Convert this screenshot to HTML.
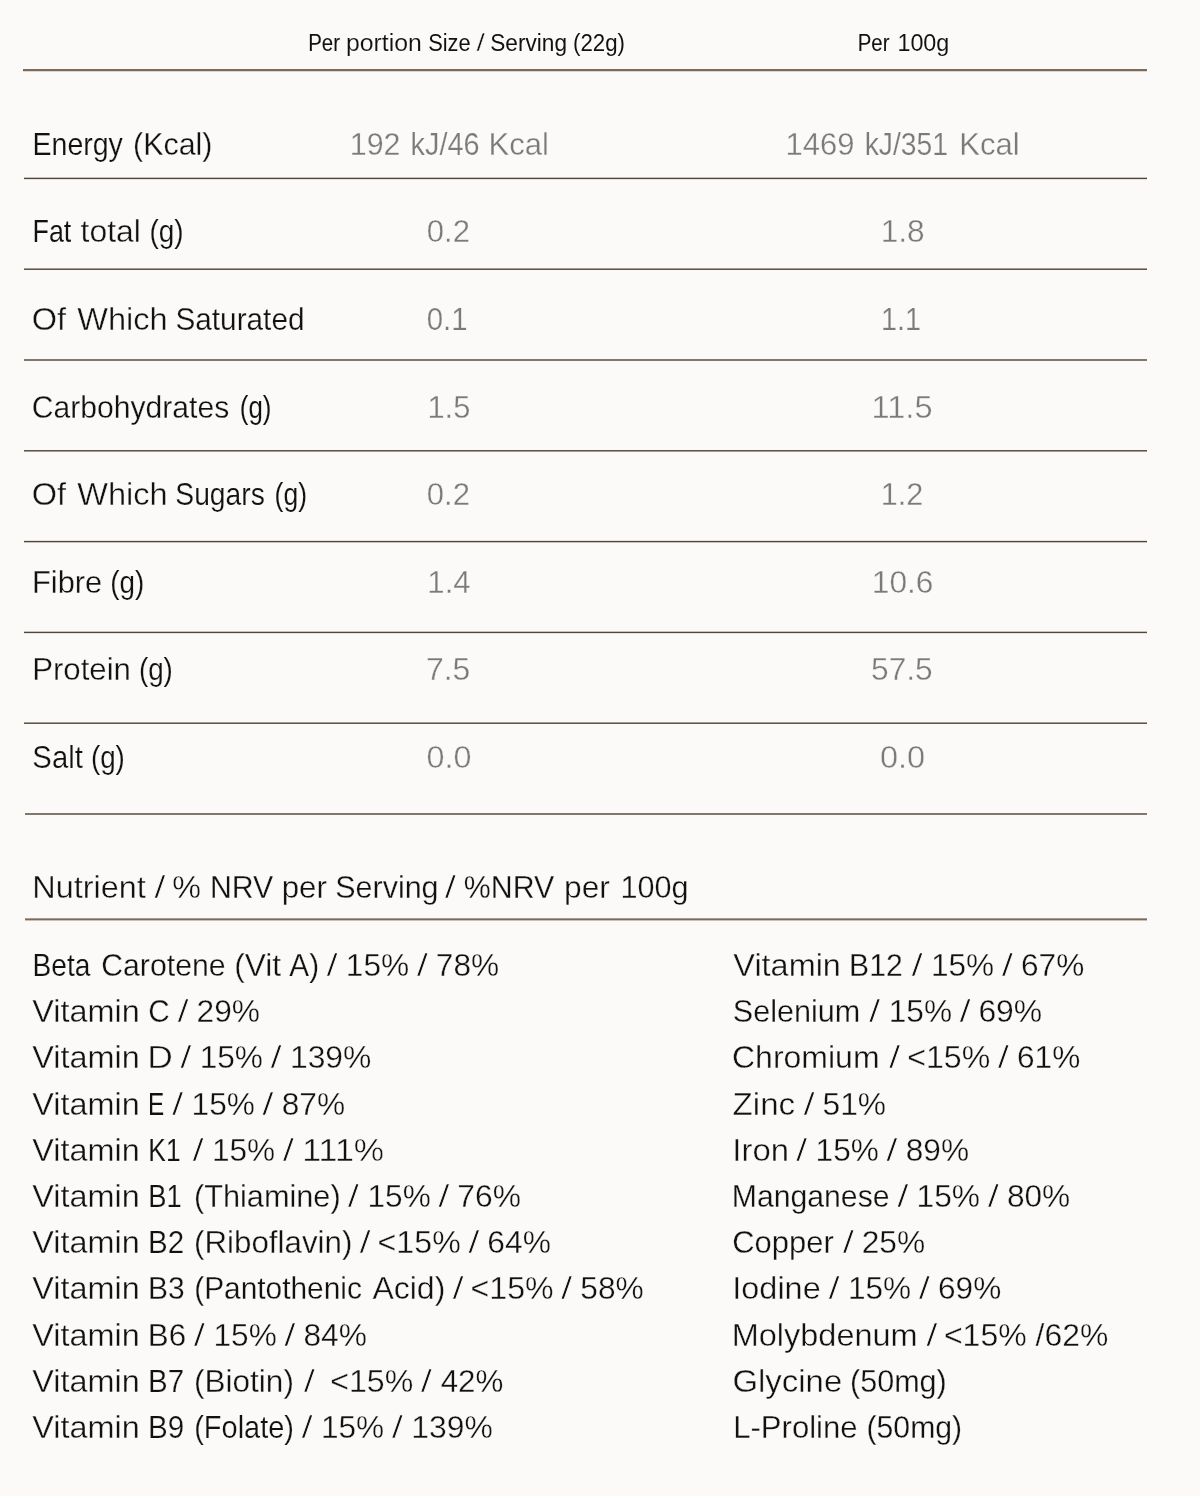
<!DOCTYPE html>
<html lang="en">
<head>
<meta charset="utf-8">
<title>Nutritional information</title>
<style>
html,body{margin:0;padding:0;background:#fbfaf8;}
body{width:1200px;height:1496px;position:relative;overflow:hidden;font-family:"Liberation Sans",Arial,Helvetica,sans-serif;font-weight:400;}
.r{position:absolute;}
.t{position:absolute;left:0;width:1200px;height:40px;line-height:40px;margin:0;padding:0;white-space:pre;font-size:31.1px;color:#111111;-webkit-text-stroke:0 #fbfaf8;paint-order:fill stroke;}
.h{font-size:23.1px;}
.v{color:#7a7a7a;}
.t span{position:absolute;top:0;left:0;display:block;height:40px;transform-origin:0 0;}
</style>
</head>
<body>
<div class="r" style="left:23px;width:1124px;top:69px;height:3px;background:linear-gradient(to bottom,#7b6a5a 0px,#7b6a5a 1px,#7b6a5a 1px,#7b6a5a 2px,#dbd6d0 2px,#dbd6d0 3px)"></div>
<div class="r" style="left:24px;width:1123px;top:177px;height:3px;background:linear-gradient(to bottom,#c4c0ba 0px,#c4c0ba 1px,#534638 1px,#534638 2px,#e6e4e0 2px,#e6e4e0 3px)"></div>
<div class="r" style="left:24px;width:1123px;top:268px;height:2px;background:linear-gradient(to bottom,#a39c93 0px,#a39c93 1px,#605446 1px,#605446 2px)"></div>
<div class="r" style="left:24px;width:1123px;top:359px;height:2px;background:linear-gradient(to bottom,#81786d 0px,#81786d 1px,#81786d 1px,#81786d 2px)"></div>
<div class="r" style="left:24px;width:1123px;top:450px;height:2px;background:linear-gradient(to bottom,#605446 0px,#605446 1px,#a39c93 1px,#a39c93 2px)"></div>
<div class="r" style="left:24px;width:1123px;top:540px;height:3px;background:linear-gradient(to bottom,#e6e4e0 0px,#e6e4e0 1px,#534638 1px,#534638 2px,#c4c0ba 2px,#c4c0ba 3px)"></div>
<div class="r" style="left:24px;width:1123px;top:631px;height:3px;background:linear-gradient(to bottom,#c4c0ba 0px,#c4c0ba 1px,#534638 1px,#534638 2px,#e6e4e0 2px,#e6e4e0 3px)"></div>
<div class="r" style="left:24px;width:1123px;top:722px;height:2px;background:linear-gradient(to bottom,#a39c93 0px,#a39c93 1px,#605446 1px,#605446 2px)"></div>
<div class="r" style="left:25px;width:1122px;top:813px;height:2px;background:linear-gradient(to bottom,#81786d 0px,#81786d 1px,#81786d 1px,#81786d 2px)"></div>
<div class="r" style="left:25px;width:1122px;top:918px;height:3px;background:linear-gradient(to bottom,#a89c91 0px,#a89c91 1px,#7b6a5a 1px,#7b6a5a 2px,#c8c0b9 2px,#c8c0b9 3px)"></div>
<div class="t h" style="top:23px"><span style="-webkit-text-stroke:0.08px currentColor;transform:translateX(308.20px) scaleX(0.8847)">Per</span> <span style="-webkit-text-stroke-width:0.12px;transform:translateX(346.03px) scaleX(1.0738)">portion</span> <span style="transform:translateX(428.18px) scaleX(0.9457)">Size</span> <span style="-webkit-text-stroke-width:0.36px;transform:translateX(476.48px) scaleX(1.2997)">/</span> <span style="transform:translateX(490.25px) scaleX(0.9808)">Serving</span> <span style="transform:translateX(573.07px) scaleX(0.9633)">(22g)</span></div>
<div class="t h" style="top:23px"><span style="-webkit-text-stroke:0.08px currentColor;transform:translateX(857.66px) scaleX(0.8840)">Per</span> <span style="-webkit-text-stroke-width:0.05px;transform:translateX(897.40px) scaleX(1.0103)">100g</span></div>
<div class="t" style="top:125px"><span style="-webkit-text-stroke-width:0.19px;transform:translateX(32.56px) scaleX(0.9167)">Energy</span> <span style="-webkit-text-stroke-width:0.28px;transform:translateX(133.05px) scaleX(0.9773)">(Kcal)</span></div>
<div class="t v" style="top:125px"><span style="-webkit-text-stroke-width:0.28px;transform:translateX(349.82px) scaleX(0.9762)">192</span> <span style="-webkit-text-stroke-width:0.21px;transform:translateX(410.58px) scaleX(0.9280)">kJ/46</span> <span style="-webkit-text-stroke-width:0.31px;transform:translateX(488.52px) scaleX(0.9995)">Kcal</span></div>
<div class="t v" style="top:125px"><span style="-webkit-text-stroke-width:0.31px;transform:translateX(785.55px) scaleX(0.9970)">1469</span> <span style="-webkit-text-stroke-width:0.18px;transform:translateX(864.64px) scaleX(0.9093)">kJ/351</span> <span style="-webkit-text-stroke-width:0.31px;transform:translateX(959.28px) scaleX(0.9966)">Kcal</span></div>
<div class="t" style="top:212px"><span style="-webkit-text-stroke-width:0.12px;transform:translateX(32.47px) scaleX(0.8644)">Fat</span> <span style="-webkit-text-stroke-width:0.35px;transform:translateX(80.53px) scaleX(1.0275)">total</span> <span style="-webkit-text-stroke-width:0.17px;transform:translateX(149.48px) scaleX(0.8994)">(g)</span></div>
<div class="t v" style="top:212px"><span style="-webkit-text-stroke-width:0.31px;transform:translateX(426.77px) scaleX(0.9979)">0.2</span></div>
<div class="t v" style="top:212px"><span style="-webkit-text-stroke-width:0.34px;transform:translateX(880.66px) scaleX(1.0164)">1.8</span></div>
<div class="t" style="top:300px"><span style="-webkit-text-stroke-width:0.38px;transform:translateX(31.83px) scaleX(1.0443)">Of</span> <span style="-webkit-text-stroke-width:0.38px;transform:translateX(77.33px) scaleX(1.0460)">Which</span> <span style="-webkit-text-stroke-width:0.25px;transform:translateX(175.44px) scaleX(0.9571)">Saturated</span></div>
<div class="t v" style="top:300px"><span style="-webkit-text-stroke-width:0.23px;transform:translateX(426.68px) scaleX(0.9445)">0.1</span></div>
<div class="t v" style="top:300px"><span style="-webkit-text-stroke-width:0.21px;transform:translateX(881.04px) scaleX(0.9245)">1.1</span></div>
<div class="t" style="top:388px"><span style="-webkit-text-stroke-width:0.27px;transform:translateX(31.82px) scaleX(0.9677)">Carbohydrates</span> <span style="-webkit-text-stroke-width:0.08px;transform:translateX(239.81px) scaleX(0.8339)">(g)</span></div>
<div class="t v" style="top:388px"><span style="-webkit-text-stroke-width:0.30px;transform:translateX(427.42px) scaleX(0.9930)">1.5</span></div>
<div class="t v" style="top:388px"><span style="-webkit-text-stroke-width:0.38px;transform:translateX(871.62px) scaleX(1.0456)">11.5</span></div>
<div class="t" style="top:475px"><span style="-webkit-text-stroke-width:0.38px;transform:translateX(31.83px) scaleX(1.0443)">Of</span> <span style="-webkit-text-stroke-width:0.38px;transform:translateX(77.33px) scaleX(1.0460)">Which</span> <span style="-webkit-text-stroke-width:0.18px;transform:translateX(175.34px) scaleX(0.9079)">Sugars</span> <span style="-webkit-text-stroke-width:0.10px;transform:translateX(274.62px) scaleX(0.8515)">(g)</span></div>
<div class="t v" style="top:475px"><span style="-webkit-text-stroke-width:0.31px;transform:translateX(426.77px) scaleX(0.9979)">0.2</span></div>
<div class="t v" style="top:475px"><span style="-webkit-text-stroke-width:0.29px;transform:translateX(880.71px) scaleX(0.9826)">1.2</span></div>
<div class="t" style="top:563px"><span style="-webkit-text-stroke-width:0.30px;transform:translateX(32.02px) scaleX(0.9911)">Fibre</span> <span style="-webkit-text-stroke-width:0.16px;transform:translateX(110.30px) scaleX(0.8948)">(g)</span></div>
<div class="t v" style="top:563px"><span style="-webkit-text-stroke-width:0.31px;transform:translateX(427.36px) scaleX(1.0000)">1.4</span></div>
<div class="t v" style="top:563px"><span style="-webkit-text-stroke-width:0.34px;transform:translateX(871.78px) scaleX(1.0201)">10.6</span></div>
<div class="t" style="top:650px"><span style="-webkit-text-stroke-width:0.32px;transform:translateX(32.19px) scaleX(1.0025)">Protein</span> <span style="-webkit-text-stroke-width:0.16px;transform:translateX(138.90px) scaleX(0.8942)">(g)</span></div>
<div class="t v" style="top:650px"><span style="-webkit-text-stroke-width:0.35px;transform:translateX(425.92px) scaleX(1.0281)">7.5</span></div>
<div class="t v" style="top:650px"><span style="-webkit-text-stroke-width:0.34px;transform:translateX(871.02px) scaleX(1.0183)">57.5</span></div>
<div class="t" style="top:738px"><span style="-webkit-text-stroke-width:0.23px;transform:translateX(32.36px) scaleX(0.9415)">Salt</span> <span style="-webkit-text-stroke-width:0.16px;transform:translateX(90.90px) scaleX(0.8942)">(g)</span></div>
<div class="t v" style="top:738px"><span style="-webkit-text-stroke-width:0.37px;transform:translateX(426.56px) scaleX(1.0389)">0.0</span></div>
<div class="t v" style="top:738px"><span style="-webkit-text-stroke-width:0.38px;transform:translateX(879.93px) scaleX(1.0477)">0.0</span></div>
<div class="t" style="top:868px"><span style="-webkit-text-stroke-width:0.37px;transform:translateX(32.36px) scaleX(1.0423)">Nutrient</span> <span style="-webkit-text-stroke-width:0.74px;transform:translateX(154.25px) scaleX(1.2997)">/</span> <span style="-webkit-text-stroke-width:0.37px;transform:translateX(172.22px) scaleX(1.0400)">%</span> <span style="-webkit-text-stroke-width:0.28px;transform:translateX(209.91px) scaleX(0.9740)">NRV</span> <span style="-webkit-text-stroke-width:0.32px;transform:translateX(281.63px) scaleX(1.0054)">per</span> <span style="-webkit-text-stroke-width:0.28px;transform:translateX(335.27px) scaleX(0.9796)">Serving</span> <span style="-webkit-text-stroke-width:0.74px;transform:translateX(444.72px) scaleX(1.2997)">/</span> <span style="-webkit-text-stroke-width:0.28px;transform:translateX(463.85px) scaleX(0.9756)">%NRV</span> <span style="-webkit-text-stroke-width:0.34px;transform:translateX(564.10px) scaleX(1.0190)">per</span> <span style="-webkit-text-stroke-width:0.29px;transform:translateX(620.45px) scaleX(0.9835)">100g</span></div>
<div class="t" style="top:946px"><span style="-webkit-text-stroke-width:0.18px;transform:translateX(32.58px) scaleX(0.9039)">Beta</span> <span style="-webkit-text-stroke-width:0.27px;transform:translateX(101.20px) scaleX(0.9730)">Carotene</span> <span style="-webkit-text-stroke-width:0.34px;transform:translateX(234.24px) scaleX(1.0179)">(Vit</span> <span style="-webkit-text-stroke-width:0.25px;transform:translateX(289.37px) scaleX(0.9565)">A)</span> <span style="-webkit-text-stroke-width:0.74px;transform:translateX(326.44px) scaleX(1.2998)">/</span> <span style="-webkit-text-stroke-width:0.34px;transform:translateX(345.85px) scaleX(1.0187)">15%</span> <span style="-webkit-text-stroke-width:0.74px;transform:translateX(416.80px) scaleX(1.2998)">/</span> <span style="-webkit-text-stroke-width:0.34px;transform:translateX(435.84px) scaleX(1.0177)">78%</span></div>
<div class="t" style="top:992px"><span style="-webkit-text-stroke-width:0.37px;transform:translateX(32.32px) scaleX(1.0426)">Vitamin</span> <span style="-webkit-text-stroke-width:0.25px;transform:translateX(148.23px) scaleX(0.9567)">C</span> <span style="-webkit-text-stroke-width:0.74px;transform:translateX(177.44px) scaleX(1.2998)">/</span> <span style="-webkit-text-stroke-width:0.34px;transform:translateX(196.51px) scaleX(1.0192)">29%</span></div>
<div class="t" style="top:1038px"><span style="-webkit-text-stroke-width:0.37px;transform:translateX(32.32px) scaleX(1.0426)">Vitamin</span> <span style="-webkit-text-stroke-width:0.51px;transform:translateX(147.26px) scaleX(1.1403)">D</span> <span style="-webkit-text-stroke-width:0.74px;transform:translateX(180.25px) scaleX(1.2998)">/</span> <span style="-webkit-text-stroke-width:0.34px;transform:translateX(199.63px) scaleX(1.0166)">15%</span> <span style="-webkit-text-stroke-width:0.74px;transform:translateX(270.60px) scaleX(1.2998)">/</span> <span style="-webkit-text-stroke-width:0.35px;transform:translateX(289.93px) scaleX(1.0245)">139%</span></div>
<div class="t" style="top:1085px"><span style="-webkit-text-stroke-width:0.37px;transform:translateX(32.32px) scaleX(1.0426)">Vitamin</span> <span style="transform:translateX(148.12px) scaleX(0.7800)">E</span> <span style="-webkit-text-stroke-width:0.74px;transform:translateX(172.06px) scaleX(1.2998)">/</span> <span style="-webkit-text-stroke-width:0.33px;transform:translateX(191.62px) scaleX(1.0153)">15%</span> <span style="-webkit-text-stroke-width:0.74px;transform:translateX(262.28px) scaleX(1.2998)">/</span> <span style="-webkit-text-stroke-width:0.34px;transform:translateX(281.72px) scaleX(1.0179)">87%</span></div>
<div class="t" style="top:1131px"><span style="-webkit-text-stroke-width:0.37px;transform:translateX(32.32px) scaleX(1.0426)">Vitamin</span> <span style="-webkit-text-stroke-width:0.10px;transform:translateX(148.37px) scaleX(0.8478)">K1</span> <span style="-webkit-text-stroke-width:0.74px;transform:translateX(192.60px) scaleX(1.2998)">/</span> <span style="-webkit-text-stroke-width:0.34px;transform:translateX(211.91px) scaleX(1.0160)">15%</span> <span style="-webkit-text-stroke-width:0.74px;transform:translateX(282.80px) scaleX(1.2998)">/</span> <span style="-webkit-text-stroke-width:0.45px;transform:translateX(302.15px) scaleX(1.0943)">111%</span></div>
<div class="t" style="top:1177px"><span style="-webkit-text-stroke-width:0.37px;transform:translateX(32.32px) scaleX(1.0426)">Vitamin</span> <span style="-webkit-text-stroke-width:0.14px;transform:translateX(148.34px) scaleX(0.8787)">B1</span> <span style="-webkit-text-stroke-width:0.29px;transform:translateX(193.97px) scaleX(0.9870)">(Thiamine)</span> <span style="-webkit-text-stroke-width:0.74px;transform:translateX(347.80px) scaleX(1.2998)">/</span> <span style="-webkit-text-stroke-width:0.34px;transform:translateX(367.52px) scaleX(1.0165)">15%</span> <span style="-webkit-text-stroke-width:0.74px;transform:translateX(438.25px) scaleX(1.2998)">/</span> <span style="-webkit-text-stroke-width:0.34px;transform:translateX(457.29px) scaleX(1.0220)">76%</span></div>
<div class="t" style="top:1223px"><span style="-webkit-text-stroke-width:0.37px;transform:translateX(32.32px) scaleX(1.0426)">Vitamin</span> <span style="-webkit-text-stroke-width:0.24px;transform:translateX(148.06px) scaleX(0.9495)">B2</span> <span style="-webkit-text-stroke-width:0.32px;transform:translateX(194.02px) scaleX(1.0071)">(Riboflavin)</span> <span style="-webkit-text-stroke-width:0.74px;transform:translateX(359.60px) scaleX(1.2998)">/</span> <span style="-webkit-text-stroke-width:0.36px;transform:translateX(377.57px) scaleX(1.0345)">&lt;15%</span> <span style="-webkit-text-stroke-width:0.74px;transform:translateX(468.25px) scaleX(1.2998)">/</span> <span style="-webkit-text-stroke-width:0.34px;transform:translateX(487.29px) scaleX(1.0219)">64%</span></div>
<div class="t" style="top:1269px"><span style="-webkit-text-stroke-width:0.37px;transform:translateX(32.32px) scaleX(1.0426)">Vitamin</span> <span style="-webkit-text-stroke-width:0.26px;transform:translateX(148.04px) scaleX(0.9638)">B3</span> <span style="-webkit-text-stroke-width:0.26px;transform:translateX(194.21px) scaleX(0.9605)">(Pantothenic</span> <span style="-webkit-text-stroke-width:0.35px;transform:translateX(372.41px) scaleX(1.0291)">Acid)</span> <span style="-webkit-text-stroke-width:0.74px;transform:translateX(452.44px) scaleX(1.2998)">/</span> <span style="-webkit-text-stroke-width:0.36px;transform:translateX(470.51px) scaleX(1.0336)">&lt;15%</span> <span style="-webkit-text-stroke-width:0.74px;transform:translateX(560.95px) scaleX(1.2998)">/</span> <span style="-webkit-text-stroke-width:0.34px;transform:translateX(580.29px) scaleX(1.0191)">58%</span></div>
<div class="t" style="top:1316px"><span style="-webkit-text-stroke-width:0.37px;transform:translateX(32.32px) scaleX(1.0426)">Vitamin</span> <span style="-webkit-text-stroke-width:0.33px;transform:translateX(147.81px) scaleX(1.0095)">B6</span> <span style="-webkit-text-stroke-width:0.74px;transform:translateX(193.80px) scaleX(1.2998)">/</span> <span style="-webkit-text-stroke-width:0.34px;transform:translateX(213.52px) scaleX(1.0165)">15%</span> <span style="-webkit-text-stroke-width:0.74px;transform:translateX(284.25px) scaleX(1.2998)">/</span> <span style="-webkit-text-stroke-width:0.34px;transform:translateX(303.40px) scaleX(1.0203)">84%</span></div>
<div class="t" style="top:1362px"><span style="-webkit-text-stroke-width:0.37px;transform:translateX(32.32px) scaleX(1.0426)">Vitamin</span> <span style="-webkit-text-stroke-width:0.24px;transform:translateX(148.06px) scaleX(0.9495)">B7</span> <span style="-webkit-text-stroke-width:0.33px;transform:translateX(193.96px) scaleX(1.0151)">(Biotin)</span> <span style="-webkit-text-stroke-width:0.74px;transform:translateX(303.63px) scaleX(1.2998)">/</span>  <span style="-webkit-text-stroke-width:0.36px;transform:translateX(330.19px) scaleX(1.0331)">&lt;15%</span> <span style="-webkit-text-stroke-width:0.74px;transform:translateX(420.63px) scaleX(1.2998)">/</span> <span style="-webkit-text-stroke-width:0.32px;transform:translateX(440.65px) scaleX(1.0080)">42%</span></div>
<div class="t" style="top:1408px"><span style="-webkit-text-stroke-width:0.37px;transform:translateX(32.32px) scaleX(1.0426)">Vitamin</span> <span style="-webkit-text-stroke-width:0.24px;transform:translateX(148.09px) scaleX(0.9518)">B9</span> <span style="-webkit-text-stroke-width:0.22px;transform:translateX(194.20px) scaleX(0.9316)">(Folate)</span> <span style="-webkit-text-stroke-width:0.74px;transform:translateX(301.60px) scaleX(1.2998)">/</span> <span style="-webkit-text-stroke-width:0.34px;transform:translateX(320.91px) scaleX(1.0160)">15%</span> <span style="-webkit-text-stroke-width:0.74px;transform:translateX(391.80px) scaleX(1.2998)">/</span> <span style="-webkit-text-stroke-width:0.35px;transform:translateX(411.24px) scaleX(1.0256)">139%</span></div>
<div class="t" style="top:946px"><span style="-webkit-text-stroke-width:0.37px;transform:translateX(733.35px) scaleX(1.0427)">Vitamin</span> <span style="-webkit-text-stroke-width:0.27px;transform:translateX(849.04px) scaleX(0.9689)">B12</span> <span style="-webkit-text-stroke-width:0.74px;transform:translateX(911.60px) scaleX(1.2998)">/</span> <span style="-webkit-text-stroke-width:0.34px;transform:translateX(930.91px) scaleX(1.0160)">15%</span> <span style="-webkit-text-stroke-width:0.74px;transform:translateX(1001.80px) scaleX(1.2998)">/</span> <span style="-webkit-text-stroke-width:0.33px;transform:translateX(1021.04px) scaleX(1.0157)">67%</span></div>
<div class="t" style="top:992px"><span style="-webkit-text-stroke-width:0.29px;transform:translateX(732.81px) scaleX(0.9833)">Selenium</span> <span style="-webkit-text-stroke-width:0.74px;transform:translateX(868.95px) scaleX(1.2998)">/</span> <span style="-webkit-text-stroke-width:0.34px;transform:translateX(888.69px) scaleX(1.0174)">15%</span> <span style="-webkit-text-stroke-width:0.74px;transform:translateX(959.44px) scaleX(1.2998)">/</span> <span style="-webkit-text-stroke-width:0.35px;transform:translateX(978.38px) scaleX(1.0259)">69%</span></div>
<div class="t" style="top:1038px"><span style="-webkit-text-stroke-width:0.35px;transform:translateX(731.97px) scaleX(1.0293)">Chromium</span> <span style="-webkit-text-stroke-width:0.74px;transform:translateX(888.95px) scaleX(1.2998)">/</span> <span style="-webkit-text-stroke-width:0.36px;transform:translateX(907.22px) scaleX(1.0335)">&lt;15%</span> <span style="-webkit-text-stroke-width:0.74px;transform:translateX(997.80px) scaleX(1.2998)">/</span> <span style="-webkit-text-stroke-width:0.33px;transform:translateX(1017.04px) scaleX(1.0157)">61%</span></div>
<div class="t" style="top:1085px"><span style="-webkit-text-stroke-width:0.41px;transform:translateX(732.55px) scaleX(1.0655)">Zinc</span> <span style="-webkit-text-stroke-width:0.74px;transform:translateX(803.44px) scaleX(1.2998)">/</span> <span style="-webkit-text-stroke-width:0.34px;transform:translateX(822.52px) scaleX(1.0211)">51%</span></div>
<div class="t" style="top:1131px"><span style="-webkit-text-stroke-width:0.39px;transform:translateX(732.31px) scaleX(1.0571)">Iron</span> <span style="-webkit-text-stroke-width:0.74px;transform:translateX(796.06px) scaleX(1.2998)">/</span> <span style="-webkit-text-stroke-width:0.33px;transform:translateX(815.62px) scaleX(1.0153)">15%</span> <span style="-webkit-text-stroke-width:0.74px;transform:translateX(886.28px) scaleX(1.2998)">/</span> <span style="-webkit-text-stroke-width:0.34px;transform:translateX(905.72px) scaleX(1.0179)">89%</span></div>
<div class="t" style="top:1177px"><span style="-webkit-text-stroke-width:0.27px;transform:translateX(731.76px) scaleX(0.9709)">Manganese</span> <span style="-webkit-text-stroke-width:0.74px;transform:translateX(897.33px) scaleX(1.2998)">/</span> <span style="-webkit-text-stroke-width:0.34px;transform:translateX(916.55px) scaleX(1.0195)">15%</span> <span style="-webkit-text-stroke-width:0.74px;transform:translateX(987.69px) scaleX(1.2998)">/</span> <span style="-webkit-text-stroke-width:0.34px;transform:translateX(1006.88px) scaleX(1.0179)">80%</span></div>
<div class="t" style="top:1223px"><span style="-webkit-text-stroke-width:0.31px;transform:translateX(732.17px) scaleX(0.9956)">Copper</span> <span style="-webkit-text-stroke-width:0.74px;transform:translateX(842.69px) scaleX(1.2998)">/</span> <span style="-webkit-text-stroke-width:0.34px;transform:translateX(861.71px) scaleX(1.0200)">25%</span></div>
<div class="t" style="top:1269px"><span style="-webkit-text-stroke-width:0.37px;transform:translateX(732.33px) scaleX(1.0429)">Iodine</span> <span style="-webkit-text-stroke-width:0.74px;transform:translateX(828.60px) scaleX(1.2998)">/</span> <span style="-webkit-text-stroke-width:0.34px;transform:translateX(847.91px) scaleX(1.0160)">15%</span> <span style="-webkit-text-stroke-width:0.74px;transform:translateX(918.80px) scaleX(1.2998)">/</span> <span style="-webkit-text-stroke-width:0.33px;transform:translateX(938.04px) scaleX(1.0157)">69%</span></div>
<div class="t" style="top:1316px"><span style="-webkit-text-stroke-width:0.38px;transform:translateX(731.64px) scaleX(1.0449)">Molybdenum</span> <span style="-webkit-text-stroke-width:0.74px;transform:translateX(926.26px) scaleX(1.2999)">/</span> <span style="-webkit-text-stroke-width:0.36px;transform:translateX(943.88px) scaleX(1.0307)">&lt;15%</span> <span style="-webkit-text-stroke-width:0.35px;transform:translateX(1035.59px) scaleX(1.0250)">/62%</span></div>
<div class="t" style="top:1362px"><span style="-webkit-text-stroke-width:0.39px;transform:translateX(732.46px) scaleX(1.0582)">Glycine</span> <span style="-webkit-text-stroke-width:0.29px;transform:translateX(850.01px) scaleX(0.9826)">(50mg)</span></div>
<div class="t" style="top:1408px"><span style="-webkit-text-stroke-width:0.31px;transform:translateX(733.19px) scaleX(0.9997)">L-Proline</span> <span style="-webkit-text-stroke-width:0.27px;transform:translateX(866.53px) scaleX(0.9708)">(50mg)</span></div>
</body>
</html>
